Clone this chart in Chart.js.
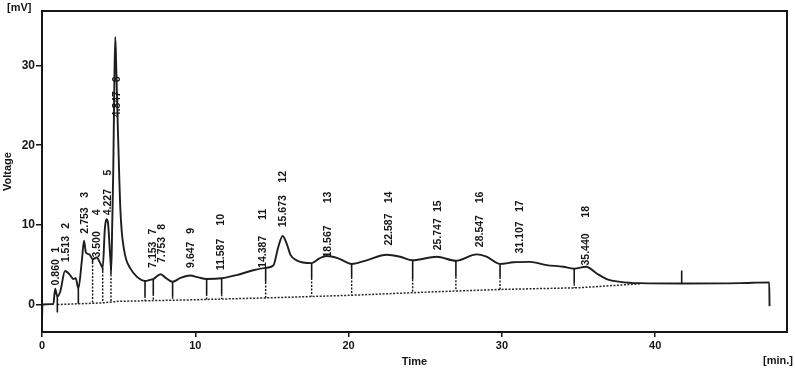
<!DOCTYPE html>
<html>
<head>
<meta charset="utf-8">
<script src="https://cdn.jsdelivr.net/npm/chart.js@4.4.1/dist/chart.umd.min.js"></script>
<style>
  html, body { margin: 0; padding: 0; background: #fff; }
  #wrap { width: 795px; height: 370px; }
</style>
</head>
<body>
<div id="wrap"><canvas id="chrom" width="795" height="370"></canvas></div>
<script>
"use strict";

// --- data ---
const sigT = [0, 0.03, 0.74, 0.86, 1.0, 1.2, 1.5, 1.83, 2.04, 2.2, 2.37, 2.6, 2.74, 2.87, 3.09, 3.3,
    3.57, 3.8, 3.96, 4.1, 4.2, 4.3, 4.45, 4.52, 4.58, 4.65, 4.72, 4.78, 4.84, 4.95, 5.04, 5.1, 5.2,
    5.35, 5.5, 5.74, 6.18, 6.72, 7.05, 7.26, 7.74, 8.1, 8.52, 9.0, 9.65, 10.2, 10.74, 11.72, 12.7,
    13.78, 14.59, 15.09, 15.41, 15.7, 15.96, 16.22, 16.61, 17.59, 18.1, 18.57, 19.33, 20.2, 21.18,
    22.48, 23.35, 24.18, 25.75, 27.0, 28.36, 29.0, 29.88, 30.75, 31.83, 32.92, 34.0, 34.72, 35.5,
    36.18, 36.84, 37.7, 39.0, 41.73, 45.5, 47.44, 47.46];
const sigV = [-2.0, 0, 0.05, 2.0, 1.0, 1.7, 4.2, 3.7, 3.2, 3.3, 2.0, 5.5, 8.0, 6.5, 6.3, 5.7,
    5.9, 5.2, 4.6, 9.5, 10.7, 10.3, 6.0, 4.3, 10, 17, 28, 33.6, 30, 22, 16, 12.5, 9.2,
    6.9, 5.6, 4.6, 3.5, 2.95, 3.1, 3.2, 3.8, 3.3, 2.85, 3.3, 3.65, 3.4, 3.2, 3.3, 3.7,
    4.3, 4.6, 4.9, 7.2, 8.6, 7.65, 6.2, 5.55, 5.2, 5.8, 6.1, 5.8, 5.1, 5.55,
    6.25, 6.0, 5.55, 6.0, 5.5, 6.3, 6.0, 5.1, 5.3, 5.35, 4.95, 4.75, 4.5, 4.75,
    3.9, 3.2, 2.85, 2.68, 2.64, 2.68, 2.78, -0.2];

// integration baseline (dotted)
const baseT = [1.0, 3.9, 5, 10, 15, 20, 25, 30, 35, 39];
const baseV = [0, 0.2, 0.4, 0.6, 0.85, 1.15, 1.55, 1.9, 2.1, 2.6];

// peak table
const peakNo = ['1', '2', '3', '4', '5', '6', '7', '8', '9', '10', '11', '12', '13', '14', '15', '16', '17', '18'];
const peakTime = ['0.860', '1.513', '2.753', '3.500', '4.227', '4.847', '7.153', '7.753', '9.647',
    '11.587', '14.387', '15.673', '18.567', '22.587', '25.747', '28.547', '31.107', '35.440'];
// where the labels start (mV): retention time text, then peak number
const labelNumAt = [2.4, 5.3, 8.9, 5.9, 11.2, 23.5, 4.6, 5.2, 4.6, 4.3, 4.6, 9.7, 5.9, 7.4, 6.8, 7.2, 6.4, 4.9];
const labelIdAt = [6.5, 9.5, 13.4, 11.2, 16.2, 27.9, 8.8, 9.4, 8.9, 9.9, 10.6, 15.3, 12.7, 12.7, 11.6, 12.7, 11.6, 10.9];

// drop lines between peaks
const dropT = [1.0, 2.37, 3.3, 3.96, 4.5, 6.72, 7.26, 8.52, 10.74, 11.72, 14.59, 17.59, 20.2, 24.18, 27.0, 29.88, 34.72];
const dropSolid = [99, 99, 3, 3, 8, 15, 15, 15, 15, 16, 14, 15, 13, 19, 16, 13, 15];
const dropTo = [-1.0, null, null, null, null, null, null, null, null, null, null, null, null, null, null, null, null];
const markT = 41.73;

const xTicks = [0, 10, 20, 30, 40];
const yTicks = [0, 10, 20, 30];

const INK = '#161616';
const FONT = '"Liberation Sans", Arial, sans-serif';

function interp(ts, vs, t) {
    if (t <= ts[0]) return vs[0];
    for (let i = 1; i < ts.length; i++) {
        if (t <= ts[i]) {
            const f = (t - ts[i - 1]) / (ts[i] - ts[i - 1]);
            return vs[i - 1] + f * (vs[i] - vs[i - 1]);
        }
    }
    return vs[vs.length - 1];
}

const annotatePlugin = {
    id: 'annotate',
    afterDatasetsDraw(chart) {
        const { ctx, chartArea, scales } = chart;
        const xs = scales.x, ys = scales.y;

        ctx.save();
        ctx.strokeStyle = INK;

        // drop lines
        dropT.forEach((t, i) => {
            const x = xs.getPixelForValue(t);
            const yTop = ys.getPixelForValue(interp(sigT, sigV, t));
            const bottomVal = dropTo[i] !== null ? dropTo[i] : interp(baseT, baseV, t);
            const yBot = ys.getPixelForValue(bottomVal);
            const ySolid = Math.min(yBot, yTop + dropSolid[i]);
            ctx.setLineDash([]);
            ctx.lineWidth = 1.6;
            ctx.beginPath(); ctx.moveTo(x, yTop); ctx.lineTo(x, ySolid); ctx.stroke();
            if (ySolid < yBot) {
                ctx.setLineDash([2, 1.5]);
                ctx.lineWidth = 1.4;
                ctx.beginPath(); ctx.moveTo(x, ySolid); ctx.lineTo(x, yBot); ctx.stroke();
            }
        });

        // event mark
        ctx.setLineDash([]);
        ctx.lineWidth = 1.6;
        const mx = xs.getPixelForValue(markT);
        const my = ys.getPixelForValue(interp(sigT, sigV, markT));
        ctx.beginPath(); ctx.moveTo(mx, my); ctx.lineTo(mx, my - 13); ctx.stroke();

        // peak labels, rotated
        ctx.fillStyle = INK;
        ctx.font = 'bold 10.5px ' + FONT;
        ctx.textAlign = 'left';
        ctx.textBaseline = 'middle';
        peakTime.forEach((txt, i) => {
            const x = xs.getPixelForValue(parseFloat(txt)) + 1;
            [[txt, labelNumAt[i]], [peakNo[i], labelIdAt[i]]].forEach(([s, v]) => {
                ctx.save();
                ctx.translate(x, ys.getPixelForValue(v));
                ctx.rotate(-Math.PI / 2);
                ctx.fillText(s, 0, 0);
                ctx.restore();
            });
        });

        // frame
        ctx.lineWidth = 2;
        ctx.strokeRect(chartArea.left, chartArea.top, chartArea.right - chartArea.left, chartArea.bottom - chartArea.top);

        // units
        ctx.font = 'bold 11px ' + FONT;
        ctx.textBaseline = 'middle';
        ctx.textAlign = 'left';
        ctx.fillText('[mV]', 7, 8);
        ctx.textAlign = 'right';
        ctx.fillText('[min.]', 793, 361);
        ctx.restore();
    }
};

const signalPoints = sigT.map((t, i) => ({ x: t, y: sigV[i] }));
const basePoints = baseT.map((t, i) => ({ x: t, y: baseV[i] }));

new Chart(document.getElementById('chrom'), {
    type: 'line',
    data: {
        datasets: [
            {
                label: 'Signal',
                data: signalPoints,
                borderColor: '#1e1e1e',
                borderWidth: 1.9,
                pointRadius: 0,
                cubicInterpolationMode: 'monotone',
                fill: false
            },
            {
                label: 'Baseline',
                data: basePoints,
                borderColor: '#2a2a2a',
                borderWidth: 1.5,
                borderDash: [2, 1.5],
                pointRadius: 0,
                tension: 0,
                fill: false
            }
        ]
    },
    options: {
        responsive: false,
        devicePixelRatio: 1,
        animation: false,
        layout: { padding: { left: 0, top: 11, right: 8, bottom: 0 } },
        plugins: { legend: { display: false }, tooltip: { enabled: false } },
        scales: {
            x: {
                type: 'linear',
                min: 0,
                max: 48.6,
                afterFit: (scale) => { scale.height = 38; },
                afterBuildTicks: (scale) => { scale.ticks = xTicks.map(v => ({ value: v })); },
                border: { display: false },
                grid: { display: true, drawOnChartArea: false, drawTicks: true, tickLength: 5, color: INK, lineWidth: 1.5 },
                ticks: { color: INK, font: { family: FONT, size: 11, weight: 'bold' }, padding: 2, maxRotation: 0 },
                title: { display: true, text: 'Time', color: INK, font: { family: FONT, size: 11, weight: 'bold' }, padding: { top: 0, bottom: 1 } }
            },
            y: {
                type: 'linear',
                min: -3.45,
                max: 36.85,
                afterFit: (scale) => { scale.width = 42; },
                afterBuildTicks: (scale) => { scale.ticks = yTicks.map(v => ({ value: v })); },
                border: { display: false },
                grid: { display: true, drawOnChartArea: false, drawTicks: true, tickLength: 6, color: INK, lineWidth: 1.5 },
                ticks: { color: INK, font: { family: FONT, size: 12, weight: 'bold' }, padding: 1 },
                title: { display: true, text: 'Voltage', color: INK, font: { family: FONT, size: 11, weight: 'bold' }, padding: { top: 1, bottom: 0 } }
            }
        }
    },
    plugins: [annotatePlugin]
});
</script>
</body>
</html>
